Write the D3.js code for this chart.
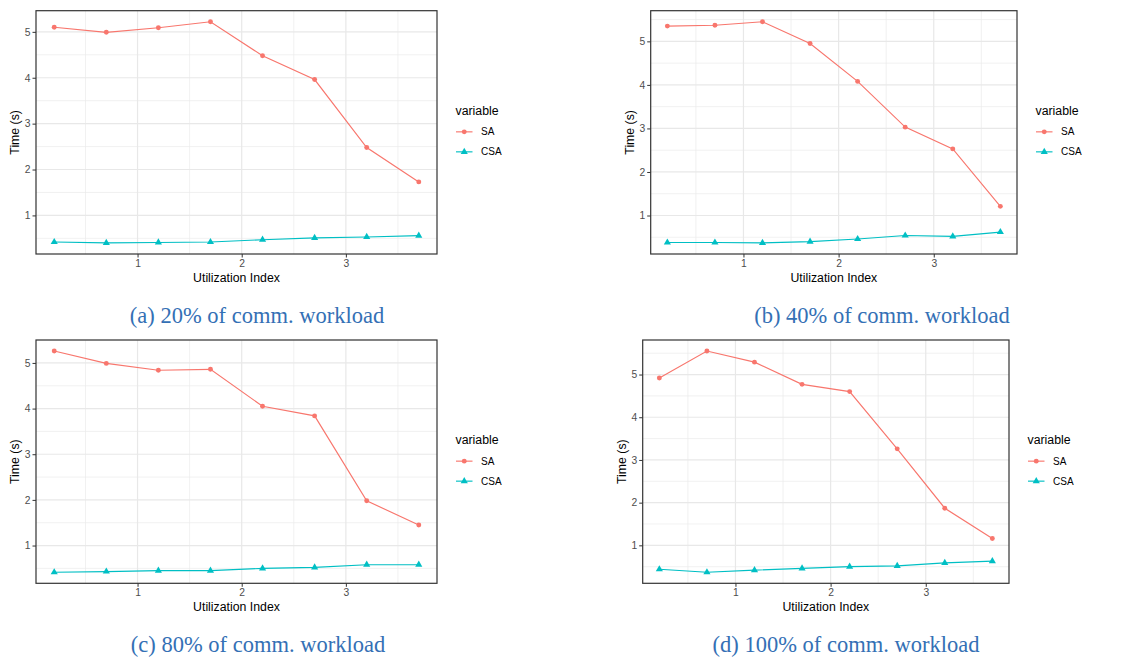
<!DOCTYPE html>
<html>
<head>
<meta charset="utf-8">
<script src="https://cdn.jsdelivr.net/npm/d3@7"></script>
<style>
  html, body { margin: 0; padding: 0; background: #fff; }
  svg { display: block; }
</style>
</head>
<body>
<svg id="chart" width="1132" height="663"></svg>
<script>
// Values
const xValues = [0.2, 0.7, 1.2, 1.7, 2.2, 2.7, 3.2, 3.7];
const seriesNames = ['SA', 'CSA'];

const saA  = [5.10, 4.99, 5.09, 5.22, 4.48, 3.96, 2.48, 1.73];
const csaA = [0.42, 0.40, 0.41, 0.42, 0.47, 0.51, 0.53, 0.56];

const saB  = [5.35, 5.37, 5.45, 4.95, 4.08, 3.03, 2.53, 1.21];
const csaB = [0.38, 0.38, 0.37, 0.40, 0.46, 0.54, 0.52, 0.62];

const saC  = [5.26, 4.99, 4.84, 4.86, 4.05, 3.84, 1.98, 1.45];
const csaC = [0.415, 0.43, 0.45, 0.45, 0.50, 0.52, 0.58, 0.58];

const saD  = [4.92, 5.55, 5.29, 4.77, 4.60, 3.26, 1.87, 1.16];
const csaD = [0.44, 0.37, 0.42, 0.46, 0.50, 0.52, 0.59, 0.63];

const xTicks = [1, 2, 3];
const yTicks = [1, 2, 3, 4, 5];
const captions = ['(a) 20% of comm. workload', '(b) 40% of comm. workload',
                  '(c) 80% of comm. workload', '(d) 100% of comm. workload'];

const COLORS = { SA: '#F8766D', CSA: '#00BFC4' };

// panel rectangles + caption anchor
const panels = [
  { sa: saA, csa: csaA, l: 36,    r: 437,  t: 10.7, b: 254,   capX: 257, capY: 323 },
  { sa: saB, csa: csaB, l: 650.7, r: 1017, t: 10.7, b: 254,   capX: 882, capY: 323 },
  { sa: saC, csa: csaC, l: 36,    r: 437,  t: 340,  b: 583.3, capX: 258, capY: 652 },
  { sa: saD, csa: csaD, l: 642.7, r: 1009, t: 340,  b: 583.3, capX: 846, capY: 652 },
];

const svg = d3.select('#chart');
const FONT = '"Liberation Sans", Arial, sans-serif';

// ggplot-style 5% expansion
function expand(lo, hi) {
  const pad = (hi - lo) * 0.05;
  return [lo - pad, hi + pad];
}

function symbolFor(name) {
  return d3.symbol()
    .type(name === 'SA' ? d3.symbolCircle : d3.symbolTriangle)
    .size(name === 'SA' ? 19 : 22);
}

panels.forEach((p, i) => {
  const g = svg.append('g');

  const x = d3.scaleLinear()
    .domain(expand(d3.min(xValues), d3.max(xValues)))
    .range([p.l, p.r]);
  const allY = p.sa.concat(p.csa);
  const y = d3.scaleLinear()
    .domain(expand(d3.min(allY), d3.max(allY)))
    .range([p.b, p.t]);

  // grid: minor then major
  const [x0, x1] = x.domain();
  const [y0, y1] = y.domain();
  const xMinor = d3.range(0.5, x1, 1).filter(v => v > x0);
  const yMinor = d3.range(0.5, y1, 1).filter(v => v > y0);

  g.selectAll('.xmin').data(xMinor).join('line')
    .attr('x1', d => x(d)).attr('x2', d => x(d))
    .attr('y1', p.t).attr('y2', p.b)
    .attr('stroke', '#ebebeb').attr('stroke-width', 0.7);
  g.selectAll('.ymin').data(yMinor).join('line')
    .attr('y1', d => y(d)).attr('y2', d => y(d))
    .attr('x1', p.l).attr('x2', p.r)
    .attr('stroke', '#ebebeb').attr('stroke-width', 0.7);
  g.selectAll('.xmaj').data(xTicks).join('line')
    .attr('x1', d => x(d)).attr('x2', d => x(d))
    .attr('y1', p.t).attr('y2', p.b)
    .attr('stroke', '#e8e8e8').attr('stroke-width', 1.2);
  g.selectAll('.ymaj').data(yTicks).join('line')
    .attr('y1', d => y(d)).attr('y2', d => y(d))
    .attr('x1', p.l).attr('x2', p.r)
    .attr('stroke', '#e8e8e8').attr('stroke-width', 1.2);

  // axes
  const xAxis = g.append('g')
    .attr('transform', `translate(0,${p.b})`)
    .call(d3.axisBottom(x).tickValues(xTicks).tickSize(3.5).tickPadding(2).tickFormat(d3.format('d')));
  const yAxis = g.append('g')
    .attr('transform', `translate(${p.l},0)`)
    .call(d3.axisLeft(y).tickValues(yTicks).tickSize(3.5).tickPadding(2).tickFormat(d3.format('d')));
  [xAxis, yAxis].forEach(a => {
    a.select('.domain').remove();
    a.selectAll('line').attr('stroke', '#333333').attr('stroke-width', 1);
    a.selectAll('text').attr('fill', '#4d4d4d').attr('font-size', 10.3).attr('font-family', FONT);
  });

  // border
  g.append('rect')
    .attr('x', p.l).attr('y', p.t)
    .attr('width', p.r - p.l).attr('height', p.b - p.t)
    .attr('fill', 'none').attr('stroke', '#333333').attr('stroke-width', 1.2);

  // series
  const series = [
    { name: 'SA',  vals: p.sa },
    { name: 'CSA', vals: p.csa },
  ];
  const line = d3.line().x(d => x(d[0])).y(d => y(d[1]));

  series.forEach(s => {
    const pts = xValues.map((xv, k) => [xv, s.vals[k]]);
    g.append('path')
      .attr('d', line(pts))
      .attr('fill', 'none')
      .attr('stroke', COLORS[s.name])
      .attr('stroke-width', 1.15);
    g.selectAll(null).data(pts).join('path')
      .attr('transform', d => `translate(${x(d[0])},${y(d[1])})`)
      .attr('d', symbolFor(s.name))
      .attr('fill', COLORS[s.name]);
  });

  // axis titles
  g.append('text')
    .attr('x', (p.l + p.r) / 2).attr('y', p.b + 27.5)
    .attr('text-anchor', 'middle')
    .attr('font-size', 12.3).attr('font-family', FONT).attr('fill', '#000')
    .text('Utilization Index');
  g.append('text')
    .attr('transform', `translate(${p.l - 21.5},${(p.t + p.b) / 2}) rotate(-90)`)
    .attr('text-anchor', 'middle').attr('dy', '0.35em')
    .attr('font-size', 12.3).attr('font-family', FONT).attr('fill', '#000')
    .text('Time (s)');

  // legend
  const lx = p.r + 18.5;
  const pc = (p.t + p.b) / 2;
  g.append('text')
    .attr('x', lx).attr('y', pc - 22).attr('dy', '0.35em')
    .attr('font-size', 12.3).attr('font-family', FONT).attr('fill', '#000')
    .text('variable');
  seriesNames.forEach((name, k) => {
    const ly = pc - 0.5 + k * 20;
    g.append('line')
      .attr('x1', lx + 0.5).attr('x2', lx + 17)
      .attr('y1', ly).attr('y2', ly)
      .attr('stroke', COLORS[name]).attr('stroke-width', 1.15);
    g.append('path')
      .attr('transform', `translate(${lx + 8.75},${ly})`)
      .attr('d', symbolFor(name))
      .attr('fill', COLORS[name]);
    g.append('text')
      .attr('x', lx + 25.5).attr('y', ly).attr('dy', '0.35em')
      .attr('font-size', 10).attr('font-family', FONT).attr('fill', '#000')
      .text(name);
  });

  // caption
  svg.append('text')
    .attr('x', p.capX).attr('y', p.capY)
    .attr('text-anchor', 'middle')
    .attr('font-size', 22.5)
    .attr('font-family', '"Liberation Serif", "DejaVu Serif", serif')
    .attr('fill', '#3470b5')
    .text(captions[i]);
});
</script>
</body>
</html>
